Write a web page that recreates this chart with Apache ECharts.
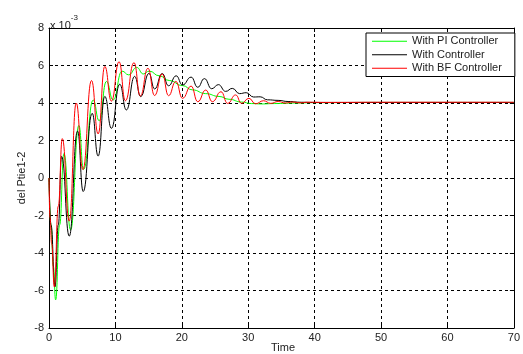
<!DOCTYPE html>
<html>
<head>
<meta charset="utf-8">
<script src="https://cdn.jsdelivr.net/npm/echarts@6.0.0/dist/echarts.min.js"></script>
<style>
  html, body { margin: 0; padding: 0; background: #fff; }
  #chart { width: 523px; height: 354px; }
</style>
</head>
<body>
<div id="chart"></div>
<script>
// 读图得到的数据 (y 单位: x10^-3)
const xTicks = [0, 10, 20, 30, 40, 50, 60, 70];
const yTicks = [-8, -6, -4, -2, 0, 2, 4, 6, 8];

const piT = [0, 0.3, 0.65, 1.0, 1.6, 2.25, 3.25, 4.5, 5.2, 6.65, 7.55, 8.65, 9.65, 11.0, 12.0, 13.2, 14.2, 15.1, 16.6, 18.1, 20.1, 21.6, 23.6, 25.6, 27.1, 29.0, 30.5, 32, 34, 37, 40, 50, 70];
const piY = [0, -2.5, -4.7, -6.5, -2.5, 1.3, -2.77, 2.8, 0.45, 4.16, 3.05, 5.15, 4.16, 5.7, 5.5, 5.9, 5.55, 5.7, 5.45, 5.2, 4.93, 4.7, 4.5, 4.35, 4.2, 4.05, 3.97, 3.95, 3.97, 4.0, 4.02, 4.03, 4.03];

const ctrlT = [0, 0.3, 0.9, 1.4, 1.9, 3.05, 4.3, 5.15, 6.5, 7.4, 8.4, 9.4, 10.65, 11.65, 12.9, 13.8, 15.05, 15.9, 17.05, 18.0, 19.15, 20.1, 21.4, 22.4, 23.4, 24.5, 25.5, 26.6, 27.6, 28.7, 29.7, 30.8, 31.8, 32.9, 34.5, 36, 38, 40, 50, 70];
const ctrlY = [0, -2.5, -5.8, -2.5, 1.15, -3.1, 2.5, -0.72, 3.45, 1.17, 4.35, 2.65, 5.0, 3.63, 5.42, 4.34, 5.58, 4.75, 5.57, 4.92, 5.45, 4.96, 5.38, 4.84, 5.3, 4.76, 4.98, 4.62, 4.78, 4.5, 4.55, 4.32, 4.33, 4.17, 4.14, 4.08, 4.04, 4.03, 4.03, 4.03];

const bfT = [0, 0.15, 0.4, 0.8, 1.4, 2.0, 3.05, 4.1, 5.1, 6.4, 7.4, 8.4, 9.4, 10.55, 11.5, 12.8, 13.75, 14.9, 15.9, 17.05, 18.0, 19.1, 20.1, 21.4, 22.4, 23.6, 24.6, 25.9, 26.9, 28.1, 29.0, 30.1, 31.1, 32.3, 33.4, 34.5, 35.6, 36.7, 37.8, 39, 42, 50, 70];
const bfY = [0, -2.1, -3.5, -5.8, -1.5, 2.1, -2.3, 4.0, 0.45, 5.2, 2.35, 5.95, 4.1, 6.2, 4.12, 6.15, 4.38, 5.85, 4.4, 5.55, 4.39, 5.15, 4.25, 4.9, 4.07, 4.69, 4.07, 4.6, 3.98, 4.43, 3.98, 4.25, 3.96, 4.12, 3.98, 4.08, 4.0, 4.05, 4.01, 4.04, 4.03, 4.04, 4.04];

const names = ['With PI Controller', 'With Controller', 'With BF Controller'];
const colors = ['#00ff00', '#000000', '#ff0000'];

const zip = (t, y) => t.map((v, i) => [v, y[i]]);

const font = 'Liberation Sans, Arial, sans-serif';
const txt = '#222';

const chart = echarts.init(document.getElementById('chart'));

const baseX = {
  type: 'value', min: xTicks[0], max: xTicks[xTicks.length - 1], interval: 10,
  axisLine: { show: true, onZero: false, lineStyle: { color: '#000', width: 1 } },
  axisTick: { show: true, inside: true, length: 4, lineStyle: { color: '#000' } },
  splitLine: { show: false }
};
const baseY = {
  type: 'value', min: yTicks[0], max: yTicks[yTicks.length - 1], interval: 2,
  axisLine: { show: true, onZero: false, lineStyle: { color: '#000', width: 1 } },
  axisTick: { show: true, inside: true, length: 4, lineStyle: { color: '#000' } },
  splitLine: { show: false }
};

chart.setOption({
  animation: false,
  backgroundColor: '#fff',
  grid: { left: 49, right: 7, top: 28, bottom: 26 },
  xAxis: [
    Object.assign({}, baseX, {
      position: 'bottom',
      axisLabel: { color: txt, fontSize: 11, fontFamily: font, margin: 4 },
      splitLine: { show: true, lineStyle: { color: '#000', type: [3, 3], width: 1 } }
    }),
    Object.assign({}, baseX, { position: 'top', axisLabel: { show: false } })
  ],
  yAxis: [
    Object.assign({}, baseY, {
      position: 'left',
      axisLabel: { color: txt, fontSize: 11, fontFamily: font, margin: 5 },
      splitLine: { show: true, lineStyle: { color: '#000', type: [3, 3], width: 1 } }
    }),
    Object.assign({}, baseY, { position: 'right', axisLabel: { show: false } })
  ],
  legend: {
    orient: 'vertical',
    left: 366, top: 33,
    padding: [2, 13, 2, 6],
    itemGap: 1,
    itemWidth: 35, itemHeight: 1,
    icon: 'rect',
    backgroundColor: '#fff',
    borderColor: '#000', borderWidth: 1, borderRadius: 0,
    textStyle: { color: txt, fontSize: 11, fontFamily: font, lineHeight: 12.5 },
    data: names
  },
  graphic: [
    {
      type: 'text', left: 50, top: 14,
      style: {
        text: '{a|x 10}{b|-3}',
        rich: {
          a: { fontSize: 11, fontFamily: font, fill: txt, padding: [6, 0, 0, 0] },
          b: { fontSize: 8, fontFamily: font, fill: txt, verticalAlign: 'top' }
        }
      }
    },
    {
      type: 'text', x: 22, y: 178, rotation: Math.PI / 2,
      style: { text: 'del Ptie1-2', fontSize: 11, fontFamily: font, fill: txt, align: 'center', verticalAlign: 'middle' }
    },
    {
      type: 'text', x: 283, y: 348,
      style: { text: 'Time', fontSize: 11, fontFamily: font, fill: txt, align: 'center', verticalAlign: 'middle' }
    }
  ],
  series: [
    { name: names[0], type: 'line', data: zip(piT, piY), color: colors[0] },
    { name: names[1], type: 'line', data: zip(ctrlT, ctrlY), color: colors[1] },
    { name: names[2], type: 'line', data: zip(bfT, bfY), color: colors[2] }
  ].map(s => Object.assign(s, {
    showSymbol: false, smooth: 0.5, smoothMonotone: 'x',
    lineStyle: { width: 1, color: s.color },
    itemStyle: { color: s.color },
    xAxisIndex: 0, yAxisIndex: 0
  }))
});
</script>
</body>
</html>
